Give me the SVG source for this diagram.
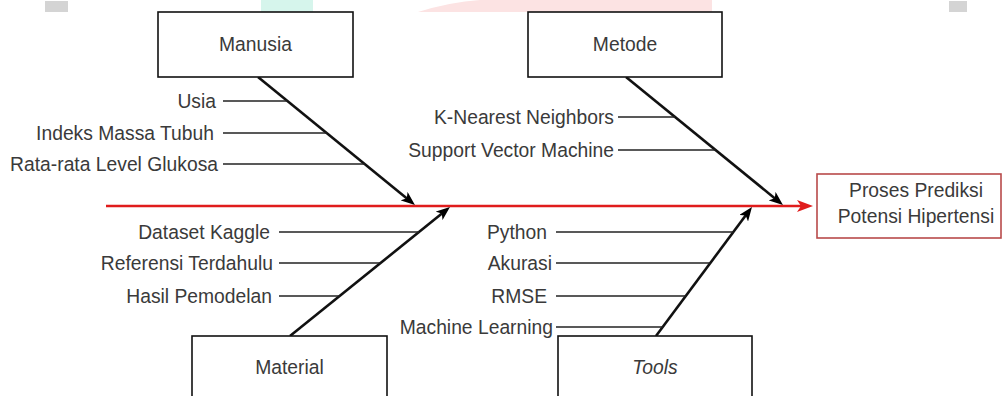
<svg xmlns="http://www.w3.org/2000/svg" width="1003" height="396" viewBox="0 0 1003 396">
  <style>
    text { font-family: "Liberation Sans", Arial, sans-serif; font-size: 19.3px; fill: #3a3a3a; }
    .lbl { text-anchor: end; }
    .mid { text-anchor: middle; }
    .box { fill: #ffffff; stroke: #111111; stroke-width: 1.6; }
    .bone { fill: none; stroke: #111111; stroke-width: 2.6; }
    .rib { fill: none; stroke: #222222; stroke-width: 1.4; }
    .spine { fill: none; stroke: #e01c1c; stroke-width: 2.6; }
  </style>
  <defs>
    <marker id="arrK" markerUnits="userSpaceOnUse" viewBox="0 0 14 11" refX="8" refY="5.5" markerWidth="14" markerHeight="11" orient="auto">
      <path d="M0,0 L14,5.5 L0,11 L3.5,5.5 Z" fill="#000000"/>
    </marker>
    <marker id="arrR" markerUnits="userSpaceOnUse" viewBox="0 0 16 12" refX="9" refY="6" markerWidth="16" markerHeight="12" orient="auto">
      <path d="M0,0 L16,6 L0,12 L4,6 Z" fill="#e01c1c"/>
    </marker>
  </defs>
  <rect x="0" y="0" width="1003" height="396" fill="#ffffff"/>
  <!-- faint background artifacts -->
  <g id="bg-artifacts">
    <rect x="45" y="1" width="23" height="11" fill="#d4d4d4"/>
    <rect x="949" y="1" width="18" height="11" fill="#d4d4d4"/>
    <rect x="261" y="0" width="52" height="12" fill="#d6f5ec"/>
    <path d="M418,12 Q450,2 480,0 L712,0 L712,12 Z" fill="#fce3e3"/>
  </g>

  <g id="connectors">
    <line class="spine" x1="106" y1="206" x2="806" y2="206" marker-end="url(#arrR)"/>
    <line class="bone" x1="258" y1="77" x2="410.3" y2="201.2" marker-end="url(#arrK)"/>
    <line class="bone" x1="626" y1="77" x2="778.3" y2="201.2" marker-end="url(#arrK)"/>
    <line class="bone" x1="290" y1="336" x2="445.3" y2="210.8" marker-end="url(#arrK)"/>
    <line class="bone" x1="656" y1="336" x2="748.4" y2="211.8" marker-end="url(#arrK)"/>
    <!-- ribs -->
    <line class="rib" x1="223" y1="101" x2="287.4" y2="101"/>
    <line class="rib" x1="223" y1="133" x2="326.7" y2="133"/>
    <line class="rib" x1="223" y1="164" x2="364.7" y2="164"/>
    <line class="rib" x1="618" y1="117" x2="675.1" y2="117"/>
    <line class="rib" x1="618" y1="150" x2="715.5" y2="150"/>
    <line class="rib" x1="279" y1="232" x2="419" y2="232"/>
    <line class="rib" x1="279" y1="263" x2="380.5" y2="263"/>
    <line class="rib" x1="279" y1="296" x2="339.6" y2="296"/>
    <line class="rib" x1="556" y1="232" x2="733.4" y2="232"/>
    <line class="rib" x1="556" y1="263" x2="710.3" y2="263"/>
    <line class="rib" x1="556" y1="296" x2="685.8" y2="296"/>
    <line class="rib" x1="556" y1="327" x2="662.7" y2="327"/>
  </g>

  <g id="manusia">
    <rect class="box" x="158" y="12" width="195" height="65"/>
    <text class="mid" x="255.5" y="51">Manusia</text>
  </g>
  <g id="metode">
    <rect class="box" x="528" y="12" width="194" height="65"/>
    <text class="mid" x="625" y="51">Metode</text>
  </g>
  <g id="material">
    <rect class="box" x="192" y="336" width="195" height="70"/>
    <text class="mid" x="289.5" y="374">Material</text>
  </g>
  <g id="tools">
    <rect class="box" x="558" y="336" width="194" height="70"/>
    <text class="mid" x="655" y="374" font-style="italic">Tools</text>
  </g>
  <g id="result">
    <rect x="817" y="174" width="184" height="64" fill="#ffffff" stroke="#b84a4a" stroke-width="1.6"/>
    <text class="mid" x="916" y="197">Proses Prediksi</text>
    <text class="mid" x="916" y="223">Potensi Hipertensi</text>
  </g>

  <g id="labels-manusia">
    <text class="lbl" x="216" y="107.5">Usia</text>
    <text class="lbl" x="214" y="139.5">Indeks Massa Tubuh</text>
    <text class="lbl" x="218" y="170.5">Rata-rata Level Glukosa</text>
  </g>
  <g id="labels-metode">
    <text class="lbl" x="614" y="123.5">K-Nearest Neighbors</text>
    <text class="lbl" x="614" y="156.5">Support Vector Machine</text>
  </g>
  <g id="labels-material">
    <text class="lbl" x="270" y="238.5">Dataset Kaggle</text>
    <text class="lbl" x="273" y="269.5">Referensi Terdahulu</text>
    <text class="lbl" x="272" y="302.5">Hasil Pemodelan</text>
  </g>
  <g id="labels-tools">
    <text class="lbl" x="547" y="238.5">Python</text>
    <text class="lbl" x="552" y="269.5">Akurasi</text>
    <text class="lbl" x="547" y="302.5">RMSE</text>
    <text class="lbl" x="553" y="333.5">Machine Learning</text>
  </g>
</svg>
